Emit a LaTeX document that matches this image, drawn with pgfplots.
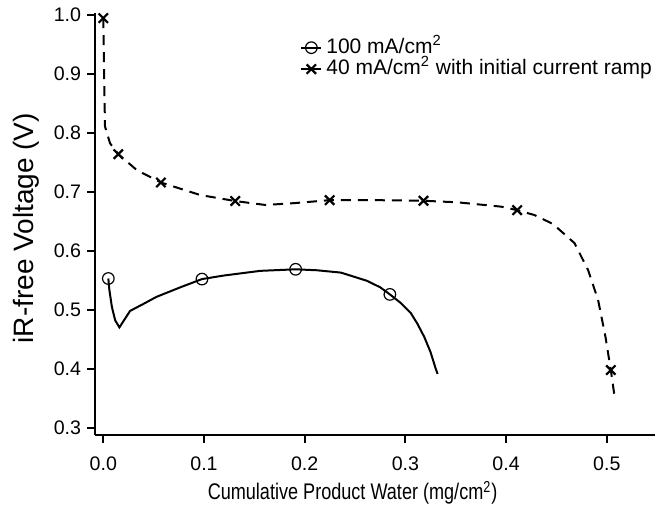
\documentclass[border=0pt]{standalone}
\usepackage{fontspec}
\setmainfont{Liberation Sans}
\newfontfamily\xlabfont{Liberation Sans}[FakeStretch=0.8]
\usepackage{pgfplots}
\pgfplotsset{compat=1.18}
\begin{document}
\fontsize{9.8}{11}\selectfont
\begin{tikzpicture}
\begin{axis}[
  scale only axis, width=280pt, height=211pt,
  xmin=-0.00824, xmax=0.5479, ymin=0.2873, ymax=1.0037,
  axis x line*=bottom, axis y line*=left,
  axis line style={line width=1pt, -},
  xtick={0,0.1,0.2,0.3,0.4,0.5},
  xticklabels={0.0,0.1,0.2,0.3,0.4,0.5},
  ytick={0.3,0.4,0.5,0.6,0.7,0.8,0.9,1.0},
  yticklabels={0.3,0.4,0.5,0.6,0.7,0.8,0.9,1.0},
  tick align=outside, major tick length=4pt,
  tick style={line width=1pt, black},
  xticklabel style={yshift=-3.5pt, font=\fontsize{9.8}{11}\selectfont},
  yticklabel style={xshift=0.5pt, font=\fontsize{9.8}{11}\selectfont},
  every axis x label/.style={at={(axis description cs:0.46,-0.137)}, anchor=center, font=\xlabfont\fontsize{11.3}{12}\selectfont},
  every axis y label/.style={at={(axis description cs:-0.122,0.49)}, rotate=90, anchor=center, font=\fontsize{14}{15}\selectfont},
  xlabel={Cumulative Product Water (mg/cm\textsuperscript{2})},
  ylabel={iR-free Voltage (V)},
  clip=false,
  legend style={draw=none, fill=none, at={(axis description cs:0.366,0.943)}, anchor=north west,
    row sep=0.5pt, column sep=2pt, inner sep=0pt,
    font=\fontsize{10.5}{11}\selectfont,
    nodes={inner sep=0pt, text height=7.8pt, text depth=2.4pt}},
  legend cell align=left,
  legend image code/.code={\draw[solid, mark indices={2}] plot coordinates {(0pt,0pt) (5pt,0pt) (10pt,0pt)};},
]
\addplot[black, line width=1pt, mark=o, mark size=2.9pt, mark options={solid, line width=0.6pt},
  mark indices={1,10,13,18}] coordinates {
(0.005,0.553) (0.006,0.534) (0.0085,0.505) (0.0118,0.482) (0.016,0.470)
(0.0266,0.498) (0.040,0.510) (0.053,0.522) (0.0764,0.538) (0.098,0.552)
(0.1195,0.558) (0.156,0.566) (0.191,0.5686) (0.212,0.567) (0.236,0.563)
(0.262,0.549) (0.275,0.538) (0.2846,0.526) (0.295,0.512) (0.3055,0.494)
(0.312,0.476) (0.3187,0.454) (0.325,0.428) (0.330,0.4005) (0.332,0.391)
};
\addlegendentry{100 mA/cm\textsuperscript{2}}
\addplot[black, line width=1pt, dash pattern=on 5pt off 3.5pt, mark=x, mark size=3.3pt, mark options={solid, line width=1.1pt},
  mark indices={1,7,9,11,14,16,19,26}] coordinates {
(0.0,0.995) (0.0004,0.95) (0.0008,0.90) (0.0013,0.85) (0.0017,0.811)
(0.0067,0.7825) (0.0149,0.764) (0.0333,0.737) (0.0572,0.716) (0.0963,0.6947)
(0.131,0.6845) (0.161,0.6778) (0.19,0.681) (0.2248,0.686) (0.27,0.686)
(0.318,0.685) (0.352,0.6823) (0.395,0.675) (0.411,0.669) (0.428,0.6608)
(0.4466,0.6455) (0.468,0.613) (0.4815,0.567) (0.4914,0.5165) (0.4987,0.454)
(0.504,0.3976) (0.508,0.3496)
};
\addlegendentry{40 mA/cm\textsuperscript{2} with initial current ramp}
\end{axis}
\path[use as bounding box] ([shift={(-47.5pt,-38pt)}]current axis.south west) rectangle ([shift={(5pt,6.5pt)}]current axis.north east);
\end{tikzpicture}
\end{document}
